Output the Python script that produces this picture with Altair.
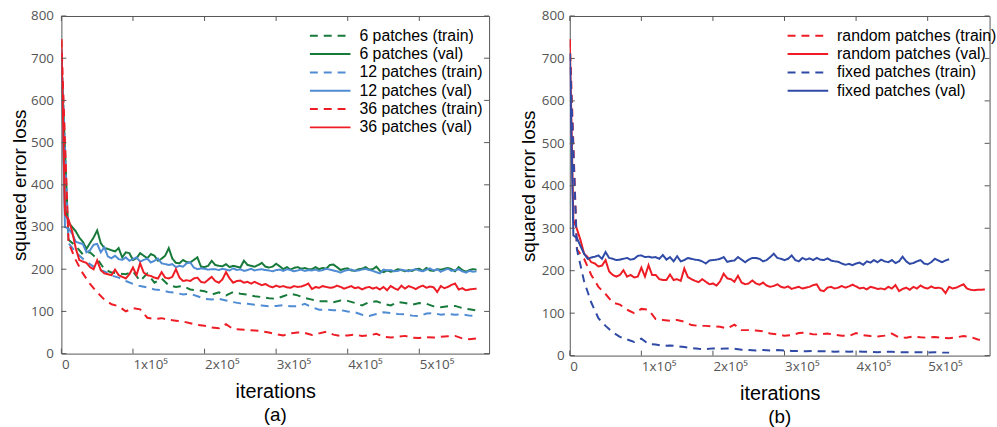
import altair as alt
import pandas as pd

# ---------------- data ----------------
IT5 = list(range(0, 580001, 5000))      # val curves, panel (a) and random val (b)
IT10 = list(range(0, 580001, 10000))    # train curves
IT5_B = list(range(0, 530001, 5000))    # fixed val (b)
IT10_B = list(range(0, 530001, 10000))  # fixed train (b)

XTICKS = [0, 100000, 200000, 300000, 400000, 500000]
YTICKS = [0, 100, 200, 300, 400, 500, 600, 700, 800]

a6_val = [690, 345, 310, 300, 290, 275, 265, 248, 262, 275,
          292, 262, 250, 248, 245, 242, 250, 228, 240, 238,
          222, 226, 238, 232, 226, 236, 232, 220, 225, 232,
          250, 225, 215, 214, 222, 217, 216, 222, 228, 206,
          205, 208, 220, 210, 208, 207, 212, 205, 208, 206,
          204, 220, 210, 208, 206, 210, 215, 206, 204, 206,
          213, 207, 200, 205, 199, 203, 205, 201, 203, 200,
          200, 205, 200, 203, 201, 210, 211, 205, 198, 201,
          202, 197, 196, 200, 201, 205, 199, 200, 206, 196,
          193, 197, 194, 196, 200, 198, 195, 198, 196, 200,
          201, 196, 203, 197, 196, 200, 199, 201, 203, 200,
          195, 205, 198, 194, 198, 200, 199]
a12_val = [720, 300, 296, 285, 265, 262, 260, 240, 245, 258,
           260, 240, 252, 230, 226, 232, 224, 222, 228, 220,
           224, 228, 218, 222, 225, 216, 220, 225, 214, 212,
           210, 212, 205, 208, 206, 214, 216, 204, 200, 202,
           201, 199, 200, 200, 198, 201, 199, 197, 202, 198,
           200, 196, 198, 201, 197, 199, 200, 198, 197, 195,
           198, 199, 196, 200, 198, 195, 197, 199, 196, 198,
           197, 199, 196, 198, 201, 199, 197, 195, 192, 196,
           198, 199, 196, 197, 199, 201, 198, 196, 193, 190,
           199, 197, 198, 195, 196, 199, 197, 195, 198, 200,
           197, 195, 199, 202, 197, 200, 194, 198, 201, 196,
           198, 200, 195, 192, 196, 194, 195]
a36_val = [745, 330, 318, 290, 250, 222, 218, 215, 205, 200,
           221, 198, 190, 188, 186, 199, 186, 182, 178, 188,
           204, 186, 214, 192, 186, 184, 180, 178, 193, 180,
           178, 182, 200, 180, 172, 174, 172, 178, 180, 170,
           168, 175, 182, 172, 168, 176, 193, 178, 168, 172,
           173, 168, 170, 166, 170, 166, 162, 165, 160, 157,
           161, 158, 160, 157, 156, 160, 158, 159, 162, 166,
           153, 158, 156, 160, 158, 156, 157, 161, 158, 154,
           157, 160, 155, 157, 152, 156, 158, 154, 157, 152,
           158, 150, 160, 155, 151, 161, 154, 160, 157, 153,
           158, 161, 156, 159, 157, 146, 160, 155, 158, 163,
           166, 152, 155, 150, 152, 153, 154]
a6_train = [700, 270, 255, 235, 240, 225, 200, 192, 190, 188,
            195, 172, 190, 168, 178, 162, 158, 160, 152, 150,
            148, 140, 145, 138, 146, 142, 140, 136, 134, 131,
            130, 136, 142, 138, 132, 128, 124, 124, 122, 126,
            125, 120, 114, 122, 124, 118, 114, 122, 120, 116,
            120, 118, 112, 110, 112, 113, 108, 105, 102]
a12_train = [720, 262, 240, 225, 212, 200, 195, 185, 180, 172,
             165, 160, 157, 152, 150, 146, 144, 140, 142, 136,
             130, 128, 130, 126, 122, 119, 118, 116, 114, 112,
             113, 115, 112, 112, 118, 110, 104, 104, 103, 103,
             100, 98, 92, 89, 94, 98, 96, 94, 93, 90,
             89, 95, 96, 92, 94, 92, 93, 90, 89]
a36_train = [745, 262, 222, 190, 165, 145, 128, 117, 112, 100,
             108, 105, 85, 82, 84, 80, 78, 76, 72, 68,
             66, 62, 60, 70, 58, 57, 56, 55, 53, 50,
             46, 43, 48, 50, 49, 44, 48, 52, 45, 42,
             43, 45, 42, 43, 47, 40, 38, 40, 42, 38,
             37, 39, 38, 40, 41, 42, 36, 34, 36]

b_rand_val = [745, 320, 298, 272, 240, 232, 220, 217, 210, 212,
              225, 198, 190, 186, 190, 201, 186, 190, 184, 186,
              207, 186, 213, 190, 190, 180, 178, 178, 191, 178,
              180, 176, 205, 185, 180, 176, 173, 180, 174, 168,
              170, 165, 175, 193, 182, 180, 174, 188, 172, 168,
              170, 177, 170, 167, 172, 165, 162, 164, 168, 162,
              160, 163, 157, 160, 162, 158, 160, 162, 166, 168,
              154, 152, 160, 162, 158, 160, 164, 160, 163, 167,
              163, 158, 160, 156, 162, 160, 157, 158, 156, 162,
              158, 166, 152, 157, 160, 155, 162, 158, 165, 160,
              158, 163, 159, 160, 158, 147, 162, 158, 160, 164,
              168, 158, 155, 154, 155, 155, 156]
b_fixed_val = [712, 283, 277, 258, 240, 228, 231, 233, 236, 228,
               244, 230, 228, 225, 226, 228, 230, 226, 228, 235,
               236, 232, 233, 231, 232, 228, 237, 226, 232, 222,
               234, 222, 225, 230, 228, 226, 225, 222, 217, 224,
               225, 226, 228, 232, 221, 223, 224, 232, 226, 220,
               226, 230, 230, 228, 222, 225, 232, 240, 230, 228,
               225, 228, 236, 225, 222, 230, 226, 229, 225, 230,
               226, 225, 229, 224, 222, 221, 217, 214, 216, 213,
               217, 219, 214, 222, 219, 225, 220, 226, 222, 220,
               225, 218, 222, 233, 222, 216, 218, 222, 225, 217,
               215, 220, 228, 224, 220, 224, 227]
b_rand_train = [745, 250, 228, 190, 162, 145, 125, 120, 108, 100,
                110, 108, 86, 84, 82, 84, 80, 72, 70, 70,
                69, 68, 64, 73, 60, 60, 59, 57, 52, 50,
                47, 48, 53, 54, 50, 50, 52, 49, 47, 46,
                53, 48, 46, 45, 47, 52, 43, 42, 45, 43,
                42, 44, 42, 41, 43, 46, 44, 38, 36]
b_fixed_train = [712, 250, 175, 125, 88, 70, 55, 44, 38, 32,
                 40, 27, 26, 23, 24, 22, 20, 18, 16, 15,
                 17, 16, 17, 16, 14, 13, 12, 13, 12, 13,
                 12, 11, 11, 10, 11, 10, 10, 9, 10, 9,
                 10, 9, 9, 8, 9, 9, 8, 8, 8, 8,
                 7, 8, 7, 7]

A_NAMES = ["6 patches (train)", "6 patches (val)", "12 patches (train)",
           "12 patches (val)", "36 patches (train)", "36 patches (val)"]
B_NAMES = ["random patches (train)", "random patches (val)",
           "fixed patches (train)", "fixed patches (val)"]

GREEN, LBLUE, RED, DBLUE = "#17793a", "#4f8cd3", "#ee1c25", "#2f4aa6"
A_COLORS = [GREEN, GREEN, LBLUE, LBLUE, RED, RED]
B_COLORS = [RED, RED, DBLUE, DBLUE]
DASH, SOLID = [8, 6], [1, 0]
A_DASHES = [DASH, SOLID, DASH, SOLID, DASH, SOLID]
B_DASHES = [DASH, SOLID, DASH, SOLID]


def frame(parts):
    rows = []
    for order, (name, its, vals) in enumerate(parts):
        for i, v in zip(its, vals):
            rows.append({"series": name, "it": i, "loss": v, "k": order})
    return pd.DataFrame(rows)


df_a = frame([(A_NAMES[0], IT10, a6_train), (A_NAMES[1], IT5, a6_val),
              (A_NAMES[2], IT10, a12_train), (A_NAMES[3], IT5, a12_val),
              (A_NAMES[4], IT10, a36_train), (A_NAMES[5], IT5, a36_val)])
df_b = frame([(B_NAMES[0], IT10, b_rand_train), (B_NAMES[1], IT5, b_rand_val),
              (B_NAMES[2], IT10_B, b_fixed_train), (B_NAMES[3], IT5_B, b_fixed_val)])

LABEL_X = "datum.value == 0 ? '0' : format(datum.value / 100000, 'd') + 'x10\u2075'"
GRAY = "#555555"


def panel(df, names, colors, dashes, w, h, xmax, sym_off, tag, ytitle_pad, ylabel_pad):
    xs = alt.Scale(domain=[0, xmax], nice=False, zero=False)
    ys = alt.Scale(domain=[0, 800], nice=False)
    xax = alt.Axis(
        values=XTICKS, title="iterations", labelExpr=LABEL_X, ticks=False,
        domain=False, grid=False, labelAlign="left", labelPadding=4,
        labelFont="Open Sans", labelFontSize=13.5, labelColor=GRAY,
        titleFont="Liberation Sans", titleFontSize=20, titleFontWeight="normal",
        titleColor="black", titlePadding=11)
    yax = alt.Axis(
        values=YTICKS, title="squared error loss", ticks=False, domain=False,
        grid=False, labelPadding=ylabel_pad, labelFont="Open Sans",
        labelFontSize=13.5, labelColor=GRAY, titleFont="Liberation Sans",
        titleFontSize=19, titleFontWeight="normal", titleColor="black",
        titlePadding=ytitle_pad)
    leg = alt.Legend(orient="none", legendX=219, legendY=12, title=None,
                     symbolType="stroke", symbolSize=1681, symbolStrokeWidth=2,
                     symbolOffset=sym_off,
                     labelFont="Liberation Sans", labelFontSize=16, labelColor="black",
                     labelLimit=0, clipHeight=16, rowPadding=2.5, labelOffset=8,
                     padding=0, offset=0)
    lines = alt.Chart(df).mark_line(strokeWidth=2, clip=True).encode(
        x=alt.X("it:Q", scale=xs, axis=xax),
        y=alt.Y("loss:Q", scale=ys, axis=yax),
        color=alt.Color("series:N", scale=alt.Scale(domain=names, range=colors), legend=leg),
        strokeDash=alt.StrokeDash("series:N", scale=alt.Scale(domain=names, range=dashes), legend=leg),
        order=alt.Order("k:Q"),
    )
    ydf = pd.DataFrame({"v": YTICKS})
    xdf = pd.DataFrame({"v": XTICKS})
    tick = dict(color=GRAY, strokeWidth=1)
    yl = alt.Chart(ydf).mark_rule(**tick).encode(
        y=alt.Y("v:Q", scale=ys, axis=yax), x=alt.value(0), x2=alt.value(5))
    yr = alt.Chart(ydf).mark_rule(**tick).encode(
        y=alt.Y("v:Q", scale=ys, axis=yax), x=alt.value(w - 5), x2=alt.value(w))
    xb = alt.Chart(xdf).mark_rule(**tick).encode(
        x=alt.X("v:Q", scale=xs, axis=xax), y=alt.value(h - 5), y2=alt.value(h))
    xt = alt.Chart(xdf).mark_rule(**tick).encode(
        x=alt.X("v:Q", scale=xs, axis=xax), y=alt.value(0), y2=alt.value(5))
    return alt.layer(lines, yl, yr, xb, xt).properties(
        width=w, height=h,
        title=alt.TitleParams(tag, orient="bottom", fontSize=19, font="Liberation Sans",
                              fontWeight="normal", color="black", offset=5))


left = panel(df_a, A_NAMES, A_COLORS, A_DASHES, 432, 341, 597500, 31, "(a)", 1, 8)
right = panel(df_b, B_NAMES, B_COLORS, B_DASHES, 424, 343, 586500, 0, "(b)", 3.3, 5.6)

chart = alt.hconcat(left, right, spacing=28.5).resolve_scale(
    x="independent", y="independent", color="independent", strokeDash="independent"
).properties(
    padding={"left": 10, "top": 6, "right": 0, "bottom": 0}, background="white"
).configure_view(stroke=GRAY, strokeWidth=1)

chart.save("out.html", embed_options={"renderer": "svg", "actions": False})
